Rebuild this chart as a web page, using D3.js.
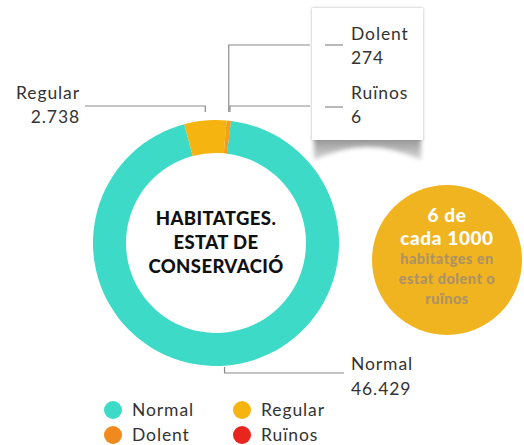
<!DOCTYPE html>
<html>
<head>
<meta charset="utf-8">
<script src="https://cdn.jsdelivr.net/npm/d3@7"></script>
<style>
  html, body { margin: 0; padding: 0; background: #fff; }
  svg { display: block; font-family: Lato, "Open Sans", sans-serif; }
</style>
</head>
<body>
<svg id="chart" width="524" height="445"></svg>
<script>
// ---- data ----
const categories = ["Normal", "Regular", "Dolent", "Ruïnos"];
const values = [46429, 2738, 274, 6];
const valueLabels = ["46.429", "2.738", "274", "6"];
const centerTitle = ["HABITATGES.", "ESTAT DE", "CONSERVACIÓ"];
const badgeHeadline = ["6 de", "cada 1000"];
const badgeText = ["habitatges en", "estat dolent o", "ruïnos"];

// ---- styles ----
const palette = ["#3ddac8", "#f5b40f", "#f2a01a", "#e8261d"];
const legendPalette = ["#3ddac8", "#f5b40f", "#f08a1e", "#e8261d"];
const color = d3.scaleOrdinal().domain(categories).range(palette);
const legendColor = d3.scaleOrdinal().domain(categories).range(legendPalette);
const textColor = "#333";
const lineColor = "#8a8a8a";

const svg = d3.select("#chart");
const cx = 216, cy = 243, rOuter = 123, rInner = 90;
const deg = Math.PI / 180;

const defs = svg.append("defs");
const shadow = defs.append("filter").attr("id", "boxShadow")
  .attr("x", "-20%").attr("y", "-20%").attr("width", "140%").attr("height", "140%");
shadow.append("feDropShadow").attr("dx", 0).attr("dy", 0)
  .attr("stdDeviation", 1.8).attr("flood-color", "#000").attr("flood-opacity", 0.3);
const blur = defs.append("filter").attr("id", "curlBlur")
  .attr("x", "-20%").attr("y", "-50%").attr("width", "140%").attr("height", "200%");
blur.append("feGaussianBlur").attr("stdDeviation", 2);
const grad = defs.append("linearGradient").attr("id", "curlGrad")
  .attr("x1", "0%").attr("x2", "0%").attr("y1", "0%").attr("y2", "100%");
grad.append("stop").attr("offset", "0%").attr("stop-color", "#6f6f6f");
grad.append("stop").attr("offset", "100%").attr("stop-color", "#d0d0d0");

const data = categories.map((c, i) => ({ cat: c, value: values[i], label: valueLabels[i] }));

const pie = d3.pie().sort(null).value(d => d.value)
  .startAngle(7 * deg).endAngle(367 * deg);
const arcs = pie(data);
const arc = d3.arc().innerRadius(rInner).outerRadius(rOuter);

const g = svg.append("g").attr("transform", `translate(${cx},${cy})`);
g.selectAll("path.slice").data(arcs).enter().append("path")
  .attr("class", "slice")
  .attr("d", arc)
  .attr("fill", d => color(d.data.cat));

// center title
g.append("text").attr("text-anchor", "middle")
  .attr("font-weight", 900).attr("font-size", 18.5).attr("letter-spacing", 0.4).attr("fill", "#111")
  .selectAll("tspan").data(centerTitle).enter().append("tspan")
  .attr("x", 0).attr("y", (d, i) => -18 + i * 24)
  .text(d => d);

const mid = d => (d.startAngle + d.endAngle) / 2;
const px = a => cx + rOuter * Math.sin(a);
const byCat = c => arcs.find(a => a.data.cat === c);

// ---- tooltip-like box (Dolent / Ruïnos) ----
const box = { x: 312, y: 8, w: 111, h: 132 };
// curled shadow under box
svg.append("path")
  .attr("d", `M${box.x + 2},${box.y + box.h - 2} L${box.x + box.w - 2},${box.y + box.h - 2}
              L${box.x + box.w - 2},${box.y + box.h + 20}
              Q${box.x + box.w / 2},${box.y + box.h - 6} ${box.x + 2},${box.y + box.h + 20} Z`)
  .attr("fill", "url(#curlGrad)").attr("opacity", 0.75).attr("filter", "url(#curlBlur)");
svg.append("rect").attr("x", box.x).attr("y", box.y).attr("width", box.w).attr("height", box.h)
  .attr("fill", "#fff").attr("filter", "url(#boxShadow)");

const lines = svg.append("g").attr("fill", "none").attr("stroke", lineColor).attr("stroke-width", 1.2);
const labels = svg.append("g").attr("fill", textColor).attr("font-size", 17.5).attr("letter-spacing", 0.9);

// Regular (left)
{
  const a = byCat("Regular"); const x = px(mid(a));
  const yTop = cy - rOuter - 14;
  lines.append("path").attr("d", `M${x},${yTop + 6} V${yTop} H85`);
  const t = labels.append("text").attr("text-anchor", "end");
  t.append("tspan").attr("x", 80).attr("y", 99).text(a.data.cat);
  t.append("tspan").attr("x", 80).attr("y", 123).text(a.data.label);
}
// Dolent
{
  const a = byCat("Dolent"); const x = px(mid(a));
  const yTop = cy - rOuter - 8;
  lines.append("path").attr("d", `M${x},${yTop} V45 H${box.x - 2}`);
  lines.append("path").attr("d", `M325,45 H343`);
  const t = labels.append("text");
  t.append("tspan").attr("x", 351).attr("y", 40).text(a.data.cat);
  t.append("tspan").attr("x", 351).attr("y", 64).text(a.data.label);
}
// Ruïnos
{
  const a = byCat("Ruïnos"); const x = px(mid(a)) - 1;
  const yTop = cy - rOuter - 8;
  lines.append("path").attr("d", `M${x},${yTop} V106 H${box.x - 2}`);
  lines.append("path").attr("d", `M325,107 H343`);
  const t = labels.append("text");
  t.append("tspan").attr("x", 351).attr("y", 99).text(a.data.cat);
  t.append("tspan").attr("x", 351).attr("y", 123).text(a.data.label);
}
// Normal (bottom)
{
  const a = byCat("Normal"); const x = px(mid(a));
  const yb = cy + rOuter;
  lines.append("path").attr("d", `M${x},${yb + 1} V${yb + 7} H344`);
  const t = labels.append("text");
  t.append("tspan").attr("x", 351).attr("y", 370).text(a.data.cat);
  t.append("tspan").attr("x", 351).attr("y", 395).text(a.data.label);
}

// ---- badge circle ----
const badge = svg.append("g").attr("transform", "translate(447,260)");
badge.append("circle").attr("r", 75).attr("fill", "#f1b421");
badge.append("text").attr("text-anchor", "middle").attr("fill", "#fff")
  .attr("font-weight", 900).attr("font-size", 19).attr("letter-spacing", 0.6)
  .selectAll("tspan").data(badgeHeadline).enter().append("tspan")
  .attr("x", 0).attr("y", (d, i) => -38 + i * 23).text(d => d);
badge.append("text").attr("text-anchor", "middle").attr("fill", "#ad9262")
  .attr("font-weight", 900).attr("font-size", 14.5).attr("letter-spacing", 0.5)
  .selectAll("tspan").data(badgeText).enter().append("tspan")
  .attr("x", 0).attr("y", (d, i) => 4 + i * 20).text(d => d);

// ---- legend ----
const legendPos = [[113, 410], [242, 410], [113, 435], [242, 435]];
const leg = svg.append("g").selectAll("g").data(categories).enter().append("g")
  .attr("transform", (d, i) => `translate(${legendPos[i][0]},${legendPos[i][1]})`);
leg.append("circle").attr("r", 9).attr("fill", d => legendColor(d));
leg.append("text").attr("x", 19).attr("y", 6).attr("fill", textColor)
  .attr("font-size", 17.5).attr("letter-spacing", 0.9).text(d => d);
</script>
</body>
</html>
